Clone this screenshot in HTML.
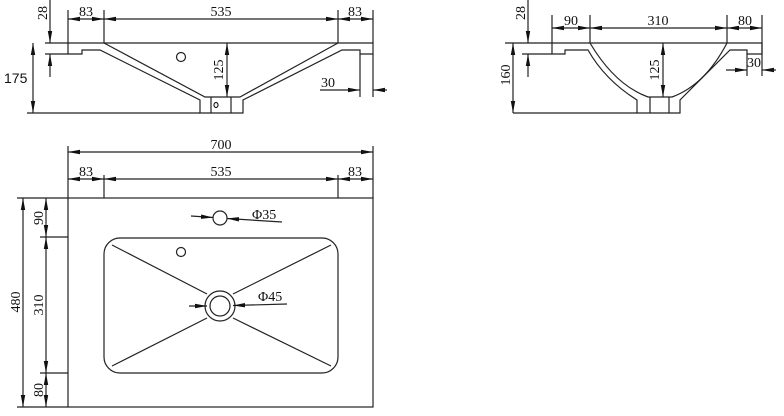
<!DOCTYPE html>
<html><head><meta charset="utf-8"><style>
html,body{margin:0;padding:0;background:#fff;}
svg{display:block;}
text{font-family:"Liberation Serif",serif;font-size:14px;fill:#111;}
</style></head><body>
<svg width="784" height="416" viewBox="0 0 784 416" xmlns="http://www.w3.org/2000/svg">
<defs>
<marker id="a" viewBox="0 0 12 6" refX="12" refY="3" markerWidth="12" markerHeight="6" markerUnits="userSpaceOnUse" orient="auto-start-reverse"><path d="M0,0.8L12,3L0,5.2z" fill="#111"/></marker>
</defs>
<g stroke="#222" stroke-width="1.2" fill="none">
<!-- ===== TOP LEFT VIEW ===== -->
<path d="M68,10V43M104,10V43M338,10V43M373,10V43"/>
<line x1="68" y1="19" x2="104" y2="19" marker-start="url(#a)" marker-end="url(#a)"/>
<line x1="104" y1="19" x2="338" y2="19" marker-start="url(#a)" marker-end="url(#a)"/>
<line x1="338" y1="19" x2="373" y2="19" marker-start="url(#a)" marker-end="url(#a)"/>
<path d="M45,43H373V54H360V50H342L243,100V113H200V100L100,50H82V54H68V43"/>
<path d="M104,43L205,97H240L338,43"/>
<path d="M211,97V113M231,97V113"/>
<ellipse cx="216" cy="105" rx="2" ry="2.5"/>
<circle cx="181" cy="57" r="4.5"/>
<line x1="227" y1="43" x2="227" y2="97" marker-start="url(#a)" marker-end="url(#a)"/>
<path d="M45,54H68"/>
<line x1="50" y1="0" x2="50" y2="43" marker-end="url(#a)"/>
<line x1="50" y1="77" x2="50" y2="54" marker-end="url(#a)"/>
<line x1="33" y1="43" x2="33" y2="113" marker-start="url(#a)" marker-end="url(#a)"/>
<path d="M27,113H200"/>
<path d="M360,54V97M373,54V97"/>
<path d="M320,90H348"/>
<line x1="348" y1="90" x2="360" y2="90" marker-end="url(#a)"/>
<line x1="387" y1="90" x2="373" y2="90" marker-end="url(#a)"/>

<!-- ===== TOP RIGHT VIEW ===== -->
<path d="M552,15V43M590,15V43M727,15V43M762,15V54"/>
<line x1="552" y1="28" x2="590" y2="28" marker-start="url(#a)" marker-end="url(#a)"/>
<line x1="590" y1="28" x2="727" y2="28" marker-start="url(#a)" marker-end="url(#a)"/>
<line x1="727" y1="28" x2="762" y2="28" marker-start="url(#a)" marker-end="url(#a)"/>
<path d="M505,43H762V54H747V50H730Q700,80 680,100V113H637V100Q605,80 588,50H565V54H552V43"/>
<path d="M590,43Q615,85 648,97H672Q705,85 727,43"/>
<path d="M650,97V113M669,97V113"/>
<line x1="663" y1="43" x2="663" y2="97" marker-start="url(#a)" marker-end="url(#a)"/>
<path d="M522,54H552"/>
<line x1="528" y1="0" x2="528" y2="43" marker-end="url(#a)"/>
<line x1="528" y1="77" x2="528" y2="54" marker-end="url(#a)"/>
<line x1="513" y1="43" x2="513" y2="113" marker-start="url(#a)" marker-end="url(#a)"/>
<path d="M513,113H637"/>
<path d="M747,54V76M762,54V76"/>
<line x1="726" y1="70" x2="747" y2="70" marker-end="url(#a)"/>
<line x1="776" y1="70" x2="762" y2="70" marker-end="url(#a)"/>

<!-- ===== BOTTOM VIEW ===== -->
<path d="M68,146V198M373,146V198M104,175V198M338,175V198"/>
<line x1="68" y1="152" x2="373" y2="152" marker-start="url(#a)" marker-end="url(#a)"/>
<line x1="68" y1="179" x2="104" y2="179" marker-start="url(#a)" marker-end="url(#a)"/>
<line x1="104" y1="179" x2="338" y2="179" marker-start="url(#a)" marker-end="url(#a)"/>
<line x1="338" y1="179" x2="373" y2="179" marker-start="url(#a)" marker-end="url(#a)"/>
<rect x="68" y="198" width="305" height="209"/>
<rect x="104" y="238" width="234" height="135" rx="16" ry="16"/>
<path d="M112,245L207,294M331,245L233,294M112,366L207,318M331,366L233,318"/>
<circle cx="220" cy="306" r="15"/>
<circle cx="220" cy="306" r="10"/>
<circle cx="181" cy="252" r="4.5"/>
<circle cx="220" cy="218" r="7"/>
<line x1="191" y1="216" x2="213" y2="217.5" marker-end="url(#a)"/>
<line x1="282" y1="222" x2="227" y2="218.5" marker-end="url(#a)"/>
<line x1="189" y1="306" x2="207" y2="306" marker-end="url(#a)"/>
<line x1="287" y1="304" x2="233" y2="305.5" marker-end="url(#a)"/>
<path d="M17,198H68M17,407H68M40,237H68M40,373H68"/>
<line x1="23" y1="198" x2="23" y2="407" marker-start="url(#a)" marker-end="url(#a)"/>
<line x1="46" y1="198" x2="46" y2="237" marker-start="url(#a)" marker-end="url(#a)"/>
<line x1="46" y1="237" x2="46" y2="373" marker-start="url(#a)" marker-end="url(#a)"/>
<line x1="46" y1="373" x2="46" y2="407" marker-start="url(#a)" marker-end="url(#a)"/>
</g>
<!-- labels -->
<text x="86" y="16" text-anchor="middle">83</text>
<text x="221" y="16" text-anchor="middle">535</text>
<text x="355" y="16" text-anchor="middle">83</text>
<text transform="translate(47,13) rotate(-90)" text-anchor="middle">28</text>
<text x="4" y="83" style="font-family:'Liberation Sans',sans-serif;font-size:14px">175</text>
<text transform="translate(223,70) rotate(-90)" text-anchor="middle">125</text>
<text x="321" y="87">30</text>

<text x="571" y="25" text-anchor="middle">90</text>
<text x="658" y="25" text-anchor="middle">310</text>
<text x="745" y="25" text-anchor="middle">80</text>
<text transform="translate(525,13) rotate(-90)" text-anchor="middle">28</text>
<text transform="translate(510,75) rotate(-90)" text-anchor="middle">160</text>
<text transform="translate(659,70) rotate(-90)" text-anchor="middle">125</text>
<text x="747" y="67">30</text>

<text x="221" y="149" text-anchor="middle">700</text>
<text x="86" y="176" text-anchor="middle">83</text>
<text x="221" y="176" text-anchor="middle">535</text>
<text x="355" y="176" text-anchor="middle">83</text>
<text x="252" y="219">Φ35</text>
<text x="258" y="301">Φ45</text>
<text transform="translate(20,302) rotate(-90)" text-anchor="middle">480</text>
<text transform="translate(43,218) rotate(-90)" text-anchor="middle">90</text>
<text transform="translate(43,305) rotate(-90)" text-anchor="middle">310</text>
<text transform="translate(43,390) rotate(-90)" text-anchor="middle">80</text>
</svg>
</body></html>
